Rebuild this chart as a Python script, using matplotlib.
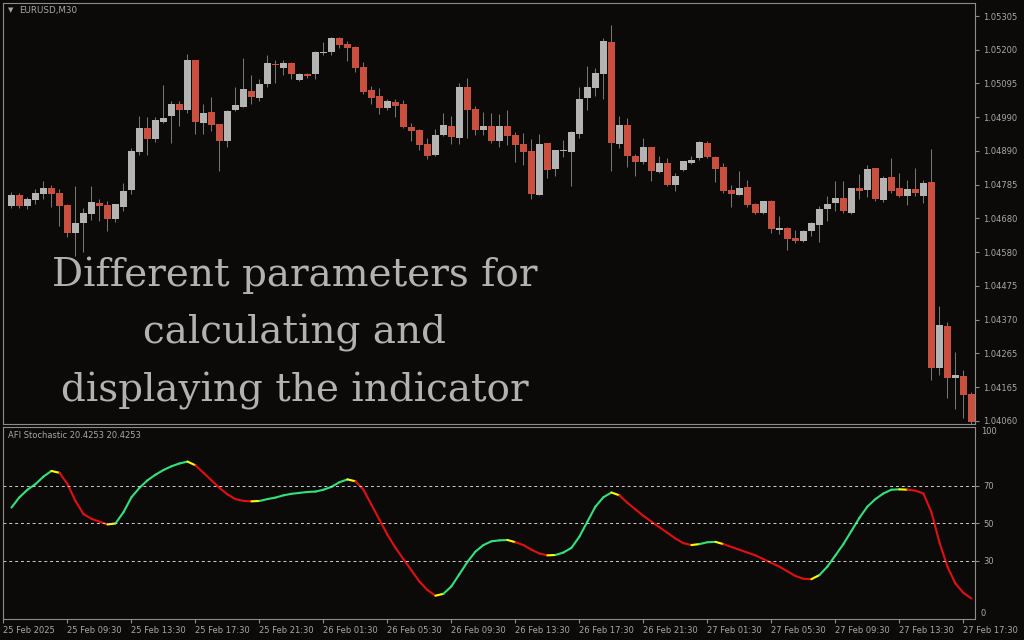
import matplotlib
matplotlib.use("Agg")
import matplotlib.pyplot as plt
import numpy as np
from matplotlib.collections import LineCollection

# EURUSD M30 candles
opens = [1.04720, 1.04754, 1.04720, 1.04739, 1.04757, 1.04776, 1.04760, 1.04724, 1.04637, 1.04668,
         1.04696, 1.04730, 1.04724, 1.04681, 1.04717, 1.04770, 1.04887, 1.04960, 1.04927, 1.04979,
         1.04997, 1.05034, 1.05016, 1.05170, 1.04976, 1.05010, 1.04973, 1.04920, 1.05016, 1.05025,
         1.05074, 1.05053, 1.05096, 1.05157, 1.05145, 1.05160, 1.05108, 1.05127, 1.05127, 1.05191,
         1.05194, 1.05237, 1.05219, 1.05210, 1.05148, 1.05077, 1.05059, 1.05022, 1.05040, 1.05034,
         1.04964, 1.04954, 1.04911, 1.04877, 1.04939, 1.04967, 1.04930, 1.05087, 1.05019, 1.04954,
         1.04967, 1.04920, 1.04967, 1.04939, 1.04911, 1.04890, 1.04754, 1.04914, 1.04834, 1.04890,
         1.04887, 1.04942, 1.05053, 1.05083, 1.05127, 1.05225, 1.04911, 1.04970, 1.04874, 1.04856,
         1.04902, 1.04825, 1.04853, 1.04785, 1.04831, 1.04853, 1.04868, 1.04914, 1.04871, 1.04840,
         1.04770, 1.04754, 1.04779, 1.04727, 1.04699, 1.04736, 1.04647, 1.04653, 1.04622, 1.04613,
         1.04644, 1.04662, 1.04711, 1.04730, 1.04745, 1.04699, 1.04776, 1.04770, 1.04837, 1.04739,
         1.04810, 1.04776, 1.04751, 1.04773, 1.04751, 1.04794, 1.04222, 1.04351, 1.04191, 1.04197,
         1.04142]
highs = [1.04764, 1.04760, 1.04748, 1.04773, 1.04797, 1.04785, 1.04773, 1.04727, 1.04782, 1.04714,
         1.04782, 1.04742, 1.04736, 1.04727, 1.04791, 1.04899, 1.04997, 1.04994, 1.04994, 1.05093,
         1.05044, 1.05044, 1.05188, 1.05170, 1.05034, 1.05056, 1.04973, 1.05016, 1.05087, 1.05176,
         1.05124, 1.05111, 1.05185, 1.05170, 1.05170, 1.05163, 1.05130, 1.05130, 1.05197, 1.05225,
         1.05240, 1.05240, 1.05228, 1.05213, 1.05163, 1.05090, 1.05083, 1.05050, 1.05050, 1.05047,
         1.04976, 1.04957, 1.04930, 1.04957, 1.05007, 1.04997, 1.05099, 1.05114, 1.05028, 1.05010,
         1.05007, 1.05004, 1.05016, 1.04948, 1.04945, 1.04927, 1.04942, 1.04914, 1.04893, 1.04924,
         1.04951, 1.05087, 1.05151, 1.05145, 1.05237, 1.05277, 1.04997, 1.04991, 1.04880, 1.04930,
         1.04902, 1.04874, 1.04868, 1.04822, 1.04859, 1.04874, 1.04920, 1.04920, 1.04874, 1.04853,
         1.04785, 1.04828, 1.04800, 1.04730, 1.04736, 1.04739, 1.04690, 1.04656, 1.04647, 1.04647,
         1.04671, 1.04720, 1.04751, 1.04797, 1.04797, 1.04776, 1.04819, 1.04847, 1.04837, 1.04813,
         1.04868, 1.04822, 1.04800, 1.04837, 1.04800, 1.04896, 1.04413, 1.04364, 1.04271, 1.04216,
         1.04148]
lows = [1.04714, 1.04714, 1.04711, 1.04727, 1.04742, 1.04717, 1.04659, 1.04625, 1.04567, 1.04579,
        1.04677, 1.04674, 1.04644, 1.04671, 1.04705, 1.04757, 1.04877, 1.04877, 1.04917, 1.04976,
        1.04914, 1.04967, 1.05007, 1.04942, 1.04942, 1.04951, 1.04828, 1.04902, 1.05013, 1.05025,
        1.05034, 1.05044, 1.05087, 1.05099, 1.05124, 1.05111, 1.05105, 1.05114, 1.05111, 1.05185,
        1.05185, 1.05207, 1.05167, 1.05133, 1.05065, 1.05034, 1.05004, 1.05016, 1.04994, 1.04960,
        1.04920, 1.04893, 1.04865, 1.04874, 1.04936, 1.04911, 1.04911, 1.04930, 1.04939, 1.04939,
        1.04914, 1.04902, 1.04908, 1.04856, 1.04847, 1.04742, 1.04754, 1.04807, 1.04813, 1.04871,
        1.04782, 1.04930, 1.05016, 1.05059, 1.05050, 1.04828, 1.04899, 1.04840, 1.04813, 1.04850,
        1.04797, 1.04822, 1.04782, 1.04767, 1.04828, 1.04850, 1.04862, 1.04868, 1.04794, 1.04760,
        1.04717, 1.04754, 1.04717, 1.04696, 1.04696, 1.04637, 1.04634, 1.04585, 1.04607, 1.04610,
        1.04628, 1.04610, 1.04674, 1.04705, 1.04699, 1.04696, 1.04742, 1.04748, 1.04736, 1.04733,
        1.04760, 1.04748, 1.04724, 1.04751, 1.04730, 1.04185, 1.04201, 1.04130, 1.04096, 1.04068,
        1.04050]
closes = [1.04754, 1.04720, 1.04742, 1.04760, 1.04776, 1.04757, 1.04720, 1.04637, 1.04668, 1.04699,
          1.04733, 1.04720, 1.04681, 1.04727, 1.04767, 1.04890, 1.04960, 1.04927, 1.04985, 1.04991,
          1.05034, 1.05016, 1.05170, 1.04979, 1.05007, 1.04970, 1.04920, 1.05013, 1.05031, 1.05080,
          1.05056, 1.05096, 1.05160, 1.05154, 1.05160, 1.05127, 1.05127, 1.05120, 1.05194, 1.05194,
          1.05237, 1.05216, 1.05207, 1.05145, 1.05071, 1.05053, 1.05022, 1.05044, 1.05028, 1.04964,
          1.04951, 1.04908, 1.04874, 1.04939, 1.04970, 1.04933, 1.05087, 1.05016, 1.04954, 1.04967,
          1.04920, 1.04967, 1.04936, 1.04908, 1.04887, 1.04757, 1.04911, 1.04831, 1.04893, 1.04893,
          1.04948, 1.05050, 1.05087, 1.05130, 1.05228, 1.04914, 1.04970, 1.04874, 1.04856, 1.04902,
          1.04828, 1.04853, 1.04785, 1.04813, 1.04859, 1.04862, 1.04917, 1.04871, 1.04834, 1.04767,
          1.04757, 1.04776, 1.04724, 1.04699, 1.04736, 1.04650, 1.04653, 1.04619, 1.04613, 1.04644,
          1.04668, 1.04711, 1.04727, 1.04745, 1.04705, 1.04776, 1.04767, 1.04834, 1.04742, 1.04807,
          1.04767, 1.04751, 1.04773, 1.04760, 1.04791, 1.04222, 1.04354, 1.04191, 1.04201, 1.04139,
          1.04056]

# AFI Stochastic line, one value per bar
stoch = [58.5, 64, 68, 71, 75, 78, 77, 71, 62, 55,
         52.5, 51, 49.5, 50, 56, 64, 69, 73, 76, 78.5,
         80.5, 82, 83, 81, 77, 73, 69, 65.5, 63, 62,
         61.8, 62, 63, 63.8, 65, 65.8, 66.3, 66.8, 67, 68,
         69.5, 72, 73.5, 72.5, 68, 60, 52, 44, 37, 31,
         25, 19, 14.5, 11.5, 12.5, 16.5, 23, 29.5, 35, 38.5,
         40.5, 41, 41.2, 40, 38.5, 36, 34, 33, 33.2, 34.5,
         37, 43, 51, 59, 64, 66.5, 65, 61, 57.5, 54,
         51, 48, 45, 42, 39.5, 38.5, 39, 40, 40.2, 39,
         37.5, 36, 34.5, 33, 31, 29, 27, 24.5, 22, 20.5,
         20.3, 22.5, 27, 33, 39, 46, 53, 59, 63, 66,
         68, 68.2, 68, 67.5, 66, 56, 40, 27, 18, 13,
         10]

price_labels = ["1.04060", "1.04165", "1.04265", "1.04370", "1.04475", "1.04580", "1.04680",
                "1.04785", "1.04890", "1.04990", "1.05095", "1.05200", "1.05305"]
time_labels = ["25 Feb 2025", "25 Feb 09:30", "25 Feb 13:30", "25 Feb 17:30", "25 Feb 21:30",
               "26 Feb 01:30", "26 Feb 05:30", "26 Feb 09:30", "26 Feb 13:30", "26 Feb 17:30",
               "26 Feb 21:30", "27 Feb 01:30", "27 Feb 05:30", "27 Feb 09:30", "27 Feb 13:30",
               "27 Feb 17:30"]
levels = [30, 50, 70]

BG = "#0c0a09"
FRAME = "#8c8c8c"
TXT = "#a8a8a8"
UP = "#b4b4b4"
DOWN = "#c9503f"
WICK = "#7a7a7a"

W, H = 1024, 640
fig = plt.figure(figsize=(W / 100, H / 100), dpi=100, facecolor=BG)


def px_axes(x0, y0, x1, y1):
    return fig.add_axes([x0 / W, 1 - y1 / H, (x1 - x0) / W, (y1 - y0) / H])


ax = px_axes(3, 3, 975, 424)
ax2 = px_axes(3, 426.5, 975, 619)

for a in (ax, ax2):
    a.set_facecolor(BG)
    for s in a.spines.values():
        s.set_color(FRAME)
        s.set_linewidth(0.8)
    a.set_xlim(-1.06, 120.45)

# candles
o = np.array(opens)
c = np.array(closes)
hi = np.array(highs)
lo = np.array(lows)
x = np.arange(len(o))
up = c >= o
ax.vlines(x, lo, hi, color=WICK, lw=0.7, zorder=1)
body = np.maximum(np.abs(c - o), 0.00003)
bottom = np.minimum(o, c)
ax.bar(x, body, 0.8, bottom=bottom, color=np.where(up, UP, DOWN), lw=0, zorder=2)

ax.set_ylim(1.04050, 1.05345)
ax.yaxis.tick_right()
ax.set_yticks(np.linspace(float(price_labels[0]), float(price_labels[-1]), len(price_labels)))
ax.set_yticklabels(price_labels)
ax.tick_params(axis="y", colors=FRAME, labelcolor=TXT, labelsize=6, length=3, width=0.8, pad=3)
ax.set_xticks([])

ax.text(0.005, 0.982, "\u25bc", transform=ax.transAxes, color=TXT, fontsize=5, va="center")
ax.text(0.017, 0.982, "EURUSD,M30", transform=ax.transAxes, color=TXT, fontsize=6.3, va="center")

fig.text(294.5 / W, 1 - 333 / H,
         "Different parameters for\ncalculating and\ndisplaying the indicator",
         ha="center", va="center", multialignment="center", color="#b2b2b2",
         fontsize=28, family="DejaVu Serif", linespacing=1.68)

# indicator panel
v = np.array(stoch)
pts = np.column_stack([x, v])
segs = np.stack([pts[:-1], pts[1:]], axis=1)
d = np.diff(v)
cols = []
for j in range(len(d)):
    if j > 0 and np.sign(d[j]) != np.sign(d[j - 1]):
        cols.append("#ffff00")
    elif d[j] >= 0:
        cols.append("#33e07a")
    else:
        cols.append("#e01010")
ax2.add_collection(LineCollection(segs, colors=cols, linewidths=1.5, capstyle="round"))

for lv in levels:
    ax2.axhline(lv, color="#d0d0d0", lw=0.7, ls=(0, (3, 3)))

ax2.set_ylim(-0.93, 101.7)
ax2.yaxis.tick_right()
ax2.set_yticks(levels)
ax2.set_yticklabels([str(lv) for lv in levels])
ax2.tick_params(axis="y", colors=FRAME, labelcolor=TXT, labelsize=6, length=3, width=0.8, pad=3)
ax2.text(1.006, 0.975, "100", transform=ax2.transAxes, color=TXT, fontsize=6, va="center")
ax2.text(1.006, 0.03, "0", transform=ax2.transAxes, color=TXT, fontsize=6, va="center")
ax2.text(0.005, 0.955, "AFI Stochastic 20.4253 20.4253", transform=ax2.transAxes,
         color=TXT, fontsize=6, va="center")

ax2.set_xticks(np.arange(len(time_labels)) * 8 - 1)
ax2.set_xticklabels(time_labels, ha="left")
ax2.tick_params(axis="x", colors=FRAME, labelcolor=TXT, labelsize=6, length=3, width=0.8, pad=2)

fig.savefig("out.png", dpi=100, facecolor=BG)
